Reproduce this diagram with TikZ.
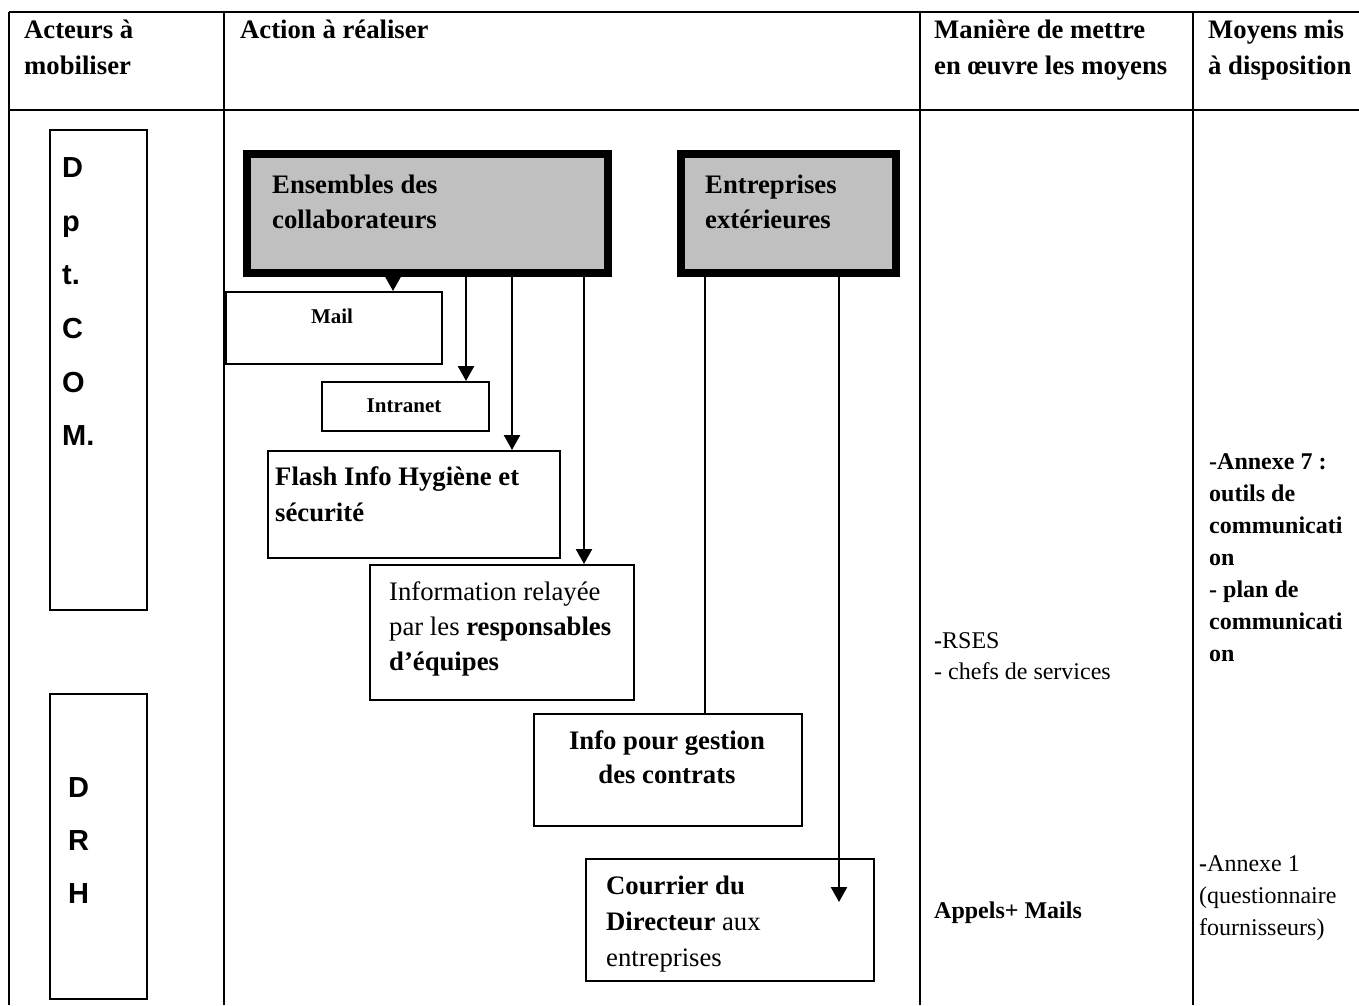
\documentclass[tikz,border=0pt]{standalone}
\usepackage{fontspec}
\setmainfont{Liberation Serif}
\newfontfamily\arialfont{Liberation Sans}
\usetikzlibrary{arrows.meta}
\definecolor{boxgray}{HTML}{C0C0C0}
\newcommand\mainsize{\fontsize{26.7}{35}\selectfont}
\newcommand\headsize{\fontsize{26.7}{36}\selectfont}
\newcommand\smallsize{\fontsize{21}{25}\selectfont}
\newcommand\notesize{\fontsize{24}{32}\selectfont}
\newcommand\lettersize{\fontsize{29}{53.6}\selectfont}

\begin{document}
\begin{tikzpicture}[x=1pt,y=-1pt,
  rule/.style={line width=2.5pt},
  box/.style={draw, line width=1.5pt, fill=white, inner sep=0, anchor=north west},
  headbox/.style={draw, line width=8pt, fill=boxgray, inner sep=0, anchor=north west},
  tx/.style={inner sep=0, anchor=north west, align=left},
  link/.style={line width=2.5pt},
  arr/.style={line width=2.5pt, -{Triangle[width=16pt,length=15pt]}},
]
\useasboundingbox (0,0) rectangle (1359,1005);

% table frame
\draw[rule] (9,12) -- (1359,12);
\draw[rule] (9,110) -- (1359,110);
\draw[rule] (9,12) -- (9,1005);
\draw[rule] (224,12) -- (224,1005);
\draw[rule] (920,12) -- (920,1005);
\draw[rule] (1193,12) -- (1193,1005);

% column headings
\node[tx, font=\headsize\bfseries] (h1) at (24,12.8) {\strut Acteurs à\\mobiliser};
\node[tx, font=\headsize\bfseries] (h2) at (240,12.8) {\strut Action à réaliser};
\node[tx, font=\headsize\bfseries] (h3) at (934,12.8) {\strut Manière de mettre\\en œuvre les moyens};
\node[tx, font=\headsize\bfseries] (h4) at (1208,12.8) {\strut Moyens mis\\à disposition};

% actors
\node[box, minimum width=97pt, minimum height=480pt] (dptcom) at (49,129) {};
\node[box, minimum width=97pt, minimum height=305pt] (drh) at (49,693) {};
\node[tx, font=\arialfont\lettersize\bfseries] (dptcomtxt) at (62,139.9) {\strut D\\p\\t.\\C\\O\\M.};
\node[tx, font=\arialfont\fontsize{29}{53}\selectfont\bfseries] (drhtxt) at (68,760.3) {\strut D\\R\\H};

% sources
\node[headbox, minimum width=361pt, minimum height=119pt] (ens) at (243,150) {};
\node[tx, font=\mainsize\bfseries] (enstxt) at (272,168.5) {\strut Ensembles des\\collaborateurs};
\node[headbox, minimum width=215pt, minimum height=119pt] (ent) at (677,150) {};
\node[tx, font=\mainsize\bfseries] (enttxt) at (705,168.5) {\strut Entreprises\\extérieures};

% channels
\node[box, minimum width=216pt, minimum height=72pt] (mail) at (225,291) {};
\node[inner sep=0, anchor=base, font=\smallsize\bfseries] (mailtxt) at (332,323) {Mail};
\node[box, minimum width=167pt, minimum height=49pt] (intra) at (321,381) {};
\node[inner sep=0, anchor=base, font=\smallsize\bfseries] (intratxt) at (404,412) {Intranet};
\node[box, minimum width=292pt, minimum height=107pt] (flash) at (267,450) {};
\node[tx, font=\headsize\bfseries] (flashtxt) at (275,459.8) {\strut Flash Info Hygiène et\\sécurité};
\node[box, minimum width=264pt, minimum height=135pt] (relay) at (369,564) {};
\node[tx, font=\mainsize] (relaytxt) at (389,575.5) {\strut Information relayée\\par les \textbf{responsables}\\\textbf{d’équipes}};
\node[box, minimum width=268pt, minimum height=112pt] (contrats) at (533,713) {};
\node[inner sep=0, anchor=north, align=center, font=\fontsize{26.7}{34}\selectfont\bfseries] (contratstxt) at (667,725.2) {\strut Info pour gestion\\des contrats};
\node[box, minimum width=288pt, minimum height=122pt] (courrier) at (585,858) {};
\node[tx, font=\headsize] (courriertxt) at (606,868.8) {\strut\textbf{Courrier du}\\\textbf{Directeur} aux\\entreprises};

% connectors
\draw[arr] (393,0 |- ens.south) -- (393,0 |- mail.north);
\draw[arr] (466,0 |- ens.south) -- (466,0 |- intra.north);
\draw[arr] (512,0 |- ens.south) -- (512,0 |- flash.north);
\draw[arr] (584,0 |- ens.south) -- (584,0 |- relay.north);
\draw[link] (705,0 |- ent.south) -- (705,0 |- contrats.north);
\coordinate (courriertip) at (839,902);
\draw[arr] (839,0 |- ent.south) -- (courriertip);

% means
\node[tx, font=\fontsize{24}{31}\selectfont] (rses) at (934,626.3) {\strut\textbf{-}RSES\\- chefs de services};
\node[inner sep=0, anchor=base west, font=\notesize\bfseries] (appels) at (934,918) {Appels+ Mails};
\node[tx, font=\notesize\bfseries] (annexe7) at (1209,446.6) {\strut -Annexe 7 :\\outils de\\communicati\\on\\- plan de\\communicati\\on};
\node[tx, font=\notesize] (annexe1) at (1199,848.6) {\strut\textbf{-}Annexe 1\\(questionnaire\\fournisseurs)};
\end{tikzpicture}
\end{document}
